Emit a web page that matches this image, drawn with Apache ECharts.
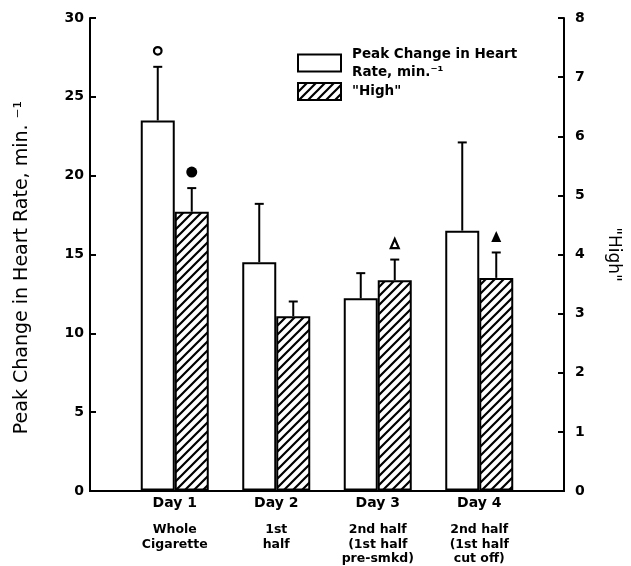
<!DOCTYPE html>
<html><head><meta charset="utf-8">
<script src="https://cdn.jsdelivr.net/npm/echarts@6/dist/echarts.min.js"></script>
<style>html,body{margin:0;padding:0;background:#fff}#c{width:631px;height:566px}</style>
</head><body><div id="c"></div>
<script>
// ---- data ----
const categories = ['Day 1', 'Day 2', 'Day 3', 'Day 4'];
const subLabels = ['Whole\nCigarette', '1st\nhalf', '2nd half\n(1st half\npre-smkd)', '2nd half\n(1st half\ncut off)'];
const heartRate = [23.5, 14.5, 12.2, 16.5];
const heartRateErr = [3.4, 3.7, 1.6, 5.6];
const high = [4.72, 2.95, 3.56, 3.6];
const highErr = [0.4, 0.25, 0.35, 0.43];
const heartRateMarkers = ['circle-open', null, null, null];
const highMarkers = ['circle', null, 'triangle-open', 'triangle'];
const leftTicks = [0, 30, 5];
const rightTicks = [0, 8, 1];
const hrName = 'Peak Change in Heart\nRate, min.\u207B\u00B9';
const highName = '"High"';

// ---- styles ----
const FONT = 'DejaVu Sans';
const pat = document.createElement('canvas');
pat.width = 9; pat.height = 9;
const g = pat.getContext('2d');
g.fillStyle = '#fff'; g.fillRect(0, 0, 9, 9);
g.strokeStyle = '#000'; g.lineWidth = 2.2;
g.beginPath();
g.moveTo(-1, 10); g.lineTo(10, -1);
g.moveTo(-5.5, 5.5); g.lineTo(5.5, -5.5);
g.moveTo(3.5, 14.5); g.lineTo(14.5, 3.5);
g.stroke();

function errRender(offset, markers) {
  return function (params, api) {
    const i = params.dataIndex;
    const v = api.value(1), e = api.value(2);
    const p0 = api.coord([i, v]);
    const p1 = api.coord([i, v + e]);
    const x = p0[0] + offset;
    const ls = { stroke: '#000', lineWidth: 2 };
    const ch = [
      { type: 'line', shape: { x1: x, y1: p0[1], x2: x, y2: p1[1] }, style: ls },
      { type: 'line', shape: { x1: x - 4.5, y1: p1[1], x2: x + 4.5, y2: p1[1] }, style: ls }
    ];
    const m = markers[i];
    const my = p1[1] - 16;
    if (m === 'circle-open') ch.push({ type: 'circle', shape: { cx: x, cy: my, r: 3.8 }, style: { fill: '#fff', stroke: '#000', lineWidth: 2.2 } });
    if (m === 'circle') ch.push({ type: 'circle', shape: { cx: x, cy: my, r: 5.5 }, style: { fill: '#000' } });
    if (m === 'triangle-open') ch.push({ type: 'polygon', shape: { points: [[x - 4, my + 4.5], [x + 4, my + 4.5], [x, my - 4.5]] }, style: { fill: '#fff', stroke: '#000', lineWidth: 2.2 } });
    if (m === 'triangle') ch.push({ type: 'polygon', shape: { points: [[x - 5, my + 5.5], [x + 5, my + 5.5], [x, my - 5.5]] }, style: { fill: '#000' } });
    return { type: 'group', children: ch };
  };
}

const axisLineStyle = { color: '#000', width: 2 };
const chart = echarts.init(document.getElementById('c'), null, { renderer: 'canvas' });
chart.setOption({
  backgroundColor: '#fff',
  animation: false,
  textStyle: { fontFamily: FONT },
  grid: [
    { left: 90, right: 67, top: 18, bottom: 75 },
    { left: 124, right: 101, top: 18, bottom: 75 }
  ],
  legend: {
    orient: 'vertical', left: 292, top: 40, itemWidth: 43, itemHeight: 17, itemGap: 1,
    icon: 'rect',
    itemStyle: { borderColor: '#000', borderWidth: 2 },
    textStyle: { fontFamily: FONT, fontWeight: 'bold', fontSize: 13.5, color: '#000', lineHeight: 18, padding: [0, 0, 0, 6] },
    data: [hrName, highName]
  },
  xAxis: [
    { gridIndex: 0, type: 'category', data: [''], position: 'bottom', axisLine: { lineStyle: axisLineStyle }, axisTick: { show: false }, axisLabel: { show: false } },
    { gridIndex: 0, type: 'category', data: [''], position: 'top', axisLine: { lineStyle: axisLineStyle }, axisTick: { show: false }, axisLabel: { show: false } },
    { gridIndex: 1, type: 'category', data: categories, position: 'bottom', axisLine: { show: false }, axisTick: { show: false },
      axisLabel: { margin: 6, fontFamily: FONT, fontWeight: 'bold', fontSize: 14, color: '#000' } },
    { gridIndex: 1, type: 'category', data: subLabels, position: 'bottom', offset: 26, axisLine: { show: false }, axisTick: { show: false },
      axisLabel: { margin: 6, interval: 0, fontFamily: FONT, fontWeight: 'bold', fontSize: 12.5, color: '#000', lineHeight: 14.5 } }
  ],
  yAxis: [
    { gridIndex: 0, type: 'value', position: 'left', min: leftTicks[0], max: leftTicks[1], interval: leftTicks[2],
      axisLine: { show: true, lineStyle: axisLineStyle }, axisTick: { show: true, inside: true, length: 6, lineStyle: { width: 2, color: '#000' } },
      splitLine: { show: false }, axisLabel: { margin: 6, fontFamily: FONT, fontWeight: 'bold', fontSize: 14, color: '#000' },
      name: 'Peak Change in Heart Rate, min. \u207B\u00B9', nameLocation: 'middle', nameGap: 58,
      nameTextStyle: { fontFamily: FONT, fontSize: 19, color: '#000', padding: [0, 26, 0, 0] } },
    { gridIndex: 0, type: 'value', position: 'right', min: rightTicks[0], max: rightTicks[1], interval: rightTicks[2],
      axisLine: { show: true, lineStyle: axisLineStyle }, axisTick: { show: true, inside: true, length: 6, lineStyle: { width: 2, color: '#000' } },
      splitLine: { show: false }, axisLabel: { margin: 11, fontFamily: FONT, fontWeight: 'bold', fontSize: 14, color: '#000' },
      name: '"High"', nameLocation: 'middle', nameGap: 41, nameRotate: -90,
      nameTextStyle: { fontFamily: FONT, fontSize: 17, color: '#000' } },
    { gridIndex: 1, type: 'value', min: leftTicks[0], max: leftTicks[1], show: false, splitLine: { show: false } },
    { gridIndex: 1, type: 'value', min: rightTicks[0], max: rightTicks[1], show: false, splitLine: { show: false } }
  ],
  series: [
    { name: hrName, type: 'bar', xAxisIndex: 2, yAxisIndex: 2, data: heartRate, barWidth: 34, barGap: '0%',
      itemStyle: { color: '#fff', borderColor: '#000', borderWidth: 2 } },
    { name: highName, type: 'bar', xAxisIndex: 2, yAxisIndex: 3, data: high, barWidth: 34, barGap: '0%',
      itemStyle: { color: { image: pat, repeat: 'repeat' }, borderColor: '#000', borderWidth: 2 } },
    { name: 'hrErr', type: 'custom', xAxisIndex: 2, yAxisIndex: 2, z: 5,
      data: heartRate.map((v, i) => [i, v, heartRateErr[i]]), renderItem: errRender(-17, heartRateMarkers), clip: false },
    { name: 'highErr', type: 'custom', xAxisIndex: 2, yAxisIndex: 3, z: 5,
      data: high.map((v, i) => [i, v, highErr[i]]), renderItem: errRender(17, highMarkers), clip: false }
  ]
});
</script></body></html>
